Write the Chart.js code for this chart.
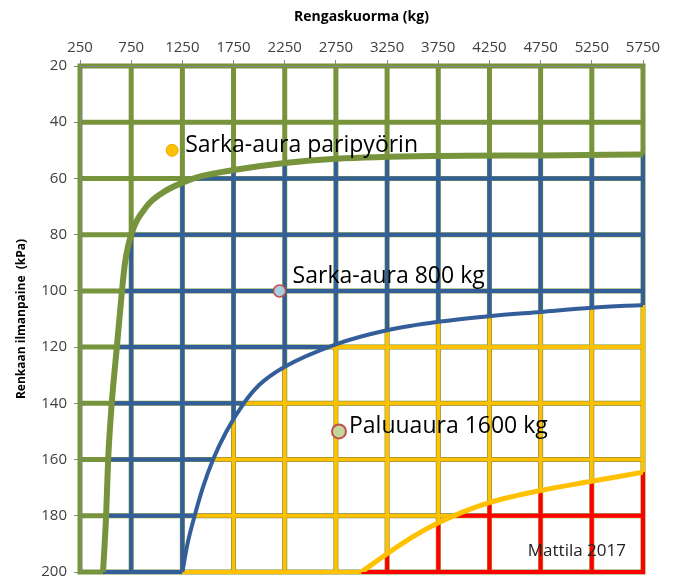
<!DOCTYPE html>
<html>
<head>
<meta charset="utf-8">
<script src="https://cdn.jsdelivr.net/npm/chart.js@4.4.1/dist/chart.umd.min.js"></script>
<style>
  body { margin: 0; background: #fff; }
  #wrap { width: 680px; height: 581px; position: relative; }
</style>
</head>
<body>
<div id="wrap"><canvas id="tyreChart"></canvas></div>
<script>
// axis ticks
const xTicks = [250, 750, 1250, 1750, 2250, 2750, 3250, 3750, 4250, 4750, 5250, 5750];
const yTicks = [20, 40, 60, 80, 100, 120, 140, 160, 180, 200];

// boundary curves (kg, kPa)
const greenCurveX = [475, 505, 525, 560, 610, 660, 690, 750, 900, 1060, 1250, 1400, 1750, 2250, 2750, 3750, 4750, 5750];
const greenCurveY = [200, 180, 160, 140, 120, 100, 90, 80, 70, 65, 61.5, 59.5, 57, 54.5, 53, 52, 51.8, 51.5];

const blueCurveX = [1250, 1300, 1370, 1450, 1550, 1680, 1850, 2000, 2250, 2750, 3250, 3750, 4250, 4750, 5250, 5750];
const blueCurveY = [200, 190, 180, 170, 160, 150, 140, 133.5, 127, 119, 114, 111, 109, 107.5, 106, 105];

const yellowCurveX = [3000, 3250, 3500, 3750, 4000, 4250, 4750, 5250, 5750];
const yellowCurveY = [200, 193.5, 187.5, 182.5, 178.5, 175.3, 171, 167.7, 164.5];

// measured cases
const caseNames = ['Sarka-aura paripyörin', 'Sarka-aura 800 kg', 'Paluuaura 1600 kg'];
const caseKg = [1150, 2200, 2780];
const caseKpa = [50, 100, 150];

const GREEN = '#77933C';
const BLUE = '#335E9A';
const YELLOW = '#FFC000';
const RED = '#FF0000';

const toPoints = (xs, ys) => xs.map((x, i) => ({ x: x, y: ys[i] }));

// label offsets in px from the point centre
const labelOffsets = [[13, -5], [13, -14], [10, -5]];

function drawGrid(ctx, chart, color, width) {
    const xs = chart.scales.x, ys = chart.scales.y;
    const top = ys.getPixelForValue(yTicks[0]);
    const bottom = ys.getPixelForValue(yTicks[yTicks.length - 1]);
    const left = xs.getPixelForValue(xTicks[0]);
    const right = xs.getPixelForValue(xTicks[xTicks.length - 1]);
    ctx.strokeStyle = color;
    ctx.lineWidth = width;
    ctx.lineCap = 'square';
    ctx.beginPath();
    xTicks.forEach(v => {
        const px = xs.getPixelForValue(v);
        ctx.moveTo(px, top);
        ctx.lineTo(px, bottom);
    });
    yTicks.forEach(v => {
        const py = ys.getPixelForValue(v);
        ctx.moveTo(left, py);
        ctx.lineTo(right, py);
    });
    ctx.stroke();
}

// clip to the area right of / below a boundary curve
function clipBelow(ctx, chart, datasetIndex) {
    const line = chart.getDatasetMeta(datasetIndex).dataset;
    const pts = line.points;
    const first = pts[0], last = pts[pts.length - 1];
    const area = chart.chartArea;
    ctx.beginPath();
    line.path(ctx);
    ctx.lineTo(area.right + 10, last.y);
    ctx.lineTo(area.right + 10, area.bottom + 10);
    ctx.lineTo(first.x, area.bottom + 10);
    ctx.closePath();
    ctx.clip();
}

const zonePlugin = {
    id: 'zones',
    beforeDatasetsDraw(chart) {
        const ctx = chart.ctx;
        ctx.save();
        drawGrid(ctx, chart, GREEN, 5);
        ctx.save();
        clipBelow(ctx, chart, 1);
        drawGrid(ctx, chart, BLUE, 4);
        ctx.save();
        clipBelow(ctx, chart, 2);
        drawGrid(ctx, chart, YELLOW, 4);
        ctx.save();
        clipBelow(ctx, chart, 3);
        drawGrid(ctx, chart, RED, 4);
        ctx.restore();
        ctx.restore();
        ctx.restore();
        ctx.restore();
    },
    afterDatasetsDraw(chart) {
        const ctx = chart.ctx;
        const meta = chart.getDatasetMeta(0);
        ctx.save();
        ctx.fillStyle = '#000';
        ctx.font = '23px "Open Sans", sans-serif';
        ctx.textAlign = 'left';
        ctx.textBaseline = 'middle';
        meta.data.forEach((pt, i) => {
            ctx.fillText(caseNames[i], pt.x + labelOffsets[i][0], pt.y + labelOffsets[i][1]);
        });
        ctx.font = '17px "Open Sans", sans-serif';
        ctx.textAlign = 'right';
        ctx.fillStyle = '#222';
        ctx.fillText('Mattila 2017', chart.chartArea.right - 17, chart.chartArea.bottom - 21);
        ctx.restore();
    }
};

const ctx = document.getElementById('tyreChart').getContext('2d');
const tyreChart = new Chart(ctx, {
    type: 'scatter',
    data: {
        datasets: [
            {
                label: 'cases',
                data: toPoints(caseKg, caseKpa),
                pointRadius: [6, 6, 7],
                pointBackgroundColor: [YELLOW, '#A8CFDF', '#C4D79B'],
                pointBorderColor: ['#E0A800', '#C0504D', '#C0504D'],
                pointBorderWidth: [1, 1.5, 2],
                showLine: false
            },
            {
                label: 'green',
                data: toPoints(greenCurveX, greenCurveY),
                showLine: true,
                borderColor: GREEN,
                borderWidth: 6,
                pointRadius: 0,
                cubicInterpolationMode: 'monotone'
            },
            {
                label: 'blue',
                data: toPoints(blueCurveX, blueCurveY),
                showLine: true,
                borderColor: BLUE,
                borderWidth: 4,
                pointRadius: 0,
                cubicInterpolationMode: 'monotone'
            },
            {
                label: 'yellow',
                data: toPoints(yellowCurveX, yellowCurveY),
                showLine: true,
                borderColor: YELLOW,
                borderWidth: 5,
                pointRadius: 0,
                cubicInterpolationMode: 'monotone'
            }
        ]
    },
    options: {
        responsive: true,
        maintainAspectRatio: false,
        animation: false,
        layout: { padding: { top: 0, left: 0, right: 37, bottom: 9 } },
        plugins: {
            legend: { display: false },
            tooltip: { enabled: false }
        },
        scales: {
            x: {
                type: 'linear',
                position: 'top',
                min: 250,
                max: 5750,
                afterBuildTicks: s => { s.ticks = xTicks.map(v => ({ value: v })); },
                afterFit: s => { s.height = 66; s.paddingLeft = 0; s.paddingRight = 0; },
                ticks: {
                    color: '#404040',
                    font: { family: 'Open Sans', size: 15 },
                    padding: 3,
                    maxRotation: 0,
                    autoSkip: false,
                    callback: v => String(v)
                },
                grid: { drawOnChartArea: false, color: '#868686', tickLength: 6 },
                border: { color: '#868686', z: 1 },
                title: {
                    display: true,
                    text: 'Rengaskuorma (kg)',
                    color: '#000',
                    font: { family: 'Open Sans', size: 14, weight: 'bold' },
                    padding: { top: 9, bottom: 0 }
                }
            },
            y: {
                reverse: true,
                min: 20,
                max: 200,
                afterBuildTicks: s => { s.ticks = yTicks.map(v => ({ value: v })); },
                afterFit: s => { s.width = 80; s.paddingTop = 0; s.paddingBottom = 0; },
                ticks: {
                    color: '#404040',
                    font: { family: 'Open Sans', size: 15 },
                    padding: 7,
                    callback: v => String(v)
                },
                grid: { drawOnChartArea: false, color: '#868686', tickLength: 6 },
                border: { color: '#868686', z: 1 },
                title: {
                    display: true,
                    text: 'Renkaan ilmanpaine  (kPa)',
                    color: '#000',
                    font: { family: 'Open Sans', size: 12, weight: 'bold' },
                    padding: { top: 14, bottom: 0 }
                }
            }
        }
    },
    plugins: [zonePlugin]
});
</script>
</body>
</html>
